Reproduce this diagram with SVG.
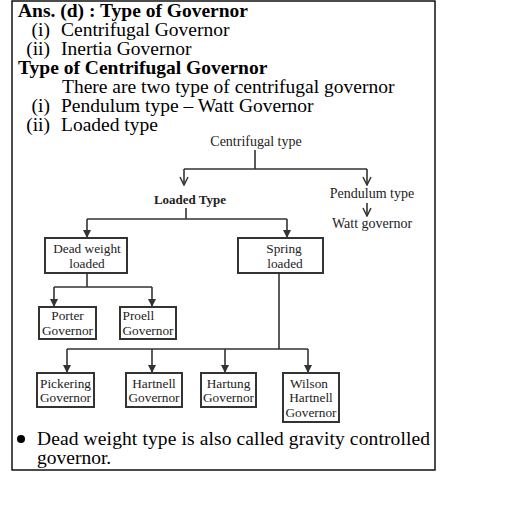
<svg xmlns="http://www.w3.org/2000/svg" width="528" height="506" viewBox="0 0 528 506">
<defs>
<marker id="tri" viewBox="0 0 10 10" refX="10" refY="5" markerWidth="9" markerHeight="8" markerUnits="userSpaceOnUse" orient="auto"><path d="M0,0 L10,5 L0,10 z" fill="#333"/></marker>
<marker id="vee" viewBox="0 0 10 10" refX="9" refY="5" markerWidth="10" markerHeight="10" markerUnits="userSpaceOnUse" orient="auto"><path d="M1,1 L9,5 L1,9" fill="none" stroke="#333" stroke-width="1.5"/></marker>
<style>
.t{font-family:"Liberation Serif","Times New Roman",serif;font-size:19.5px;fill:#000}
.b{font-weight:bold}
.d{font-family:"Liberation Serif","Times New Roman",serif;font-size:14px;fill:#222}
.s{font-size:13.3px}
.m{text-anchor:middle}
.e{text-anchor:end}
.box{fill:#fff;stroke:#333;stroke-width:2}
.c{fill:none;stroke:#333;stroke-width:1.6}
.ar{marker-end:url(#tri)}
.av{marker-end:url(#vee)}
</style>
</defs>
<rect x="12" y="1" width="423" height="469" fill="#fff" stroke="#000" stroke-width="1.4"/>
<g id="header">
<text class="t b" x="18" y="17">Ans. (d) : Type of Governor</text>
<text class="t e" x="50" y="36">(i)</text><text class="t" x="61" y="36">Centrifugal Governor</text>
<text class="t e" x="50" y="54.5">(ii)</text><text class="t" x="61" y="54.5">Inertia Governor</text>
<text class="t b" x="18" y="74">Type of Centrifugal Governor</text>
<text class="t" x="62" y="93">There are two type of centrifugal governor</text>
<text class="t e" x="50" y="112">(i)</text><text class="t" x="61" y="112">Pendulum type – Watt Governor</text>
<text class="t e" x="50" y="131">(ii)</text><text class="t" x="61" y="131">Loaded type</text>
</g>
<g id="connectors">
<path class="c" d="M255,150 V169 M184,169 H367"/>
<path class="c av" d="M184,169 V185"/>
<path class="c av" d="M367,169 V185"/>
<path class="c av" d="M367,203 V216"/>
<path class="c" d="M186,208 V219 M87,219 H287"/>
<path class="c ar" d="M87,219 V238"/>
<path class="c ar" d="M287,219 V238"/>
<path class="c" d="M87,273 V287 M54,287 H152"/>
<path class="c ar" d="M54,287 V307"/>
<path class="c ar" d="M152,287 V307"/>
<path class="c" d="M279,273 V349 M67,349 H308"/>
<path class="c ar" d="M67,349 V373"/>
<path class="c ar" d="M152,349 V373"/>
<path class="c ar" d="M225,349 V373"/>
<path class="c ar" d="M308,349 V373"/>
</g>
<g id="centrifugal"><text class="d m" x="256" y="146">Centrifugal type</text></g>
<g id="loaded"><text class="d m b" x="190" y="204" style="font-size:13px">Loaded Type</text></g>
<g id="pendulum"><text class="d m" x="372" y="198">Pendulum type</text></g>
<g id="watt"><text class="d m" x="372" y="228">Watt governor</text></g>
<g id="deadweight"><rect class="box" x="45" y="238" width="82" height="35"/><text class="d s m" x="87" y="253">Dead weight</text><text class="d s m" x="87" y="268">loaded</text></g>
<g id="spring"><rect class="box" x="238" y="238" width="85" height="35"/><text class="d s m" x="284" y="253">Spring</text><text class="d s m" x="285" y="268">loaded</text></g>
<g id="porter"><rect class="box" x="39" y="307" width="57" height="32"/><text class="d s m" x="67.5" y="320">Porter</text><text class="d s m" x="67.5" y="335">Governor</text></g>
<g id="proell"><rect class="box" x="120" y="307" width="56" height="32"/><text class="d s" x="122.5" y="320">Proell</text><text class="d s" x="122.5" y="335">Governor</text></g>
<g id="pickering"><rect class="box" x="37" y="373" width="57" height="34"/><text class="d s m" x="65.5" y="388">Pickering</text><text class="d s m" x="65.5" y="402">Governor</text></g>
<g id="hartnell"><rect class="box" x="126" y="373" width="56" height="34"/><text class="d s m" x="154" y="388">Hartnell</text><text class="d s m" x="154" y="402">Governor</text></g>
<g id="hartung"><rect class="box" x="201" y="373" width="55" height="34"/><text class="d s m" x="228.5" y="388">Hartung</text><text class="d s m" x="228.5" y="402">Governor</text></g>
<g id="wilson"><rect class="box" x="283" y="373" width="56" height="49"/><text class="d s m" x="309" y="388">Wilson</text><text class="d s m" x="311" y="402">Hartnell</text><text class="d s m" x="311" y="417">Governor</text></g>
<g id="note">
<circle cx="21" cy="439" r="4" fill="#000"/>
<text class="t" x="37" y="445" textLength="393" lengthAdjust="spacing">Dead weight type is also called gravity controlled</text>
<text class="t" x="37" y="464">governor.</text>
</g>
</svg>
